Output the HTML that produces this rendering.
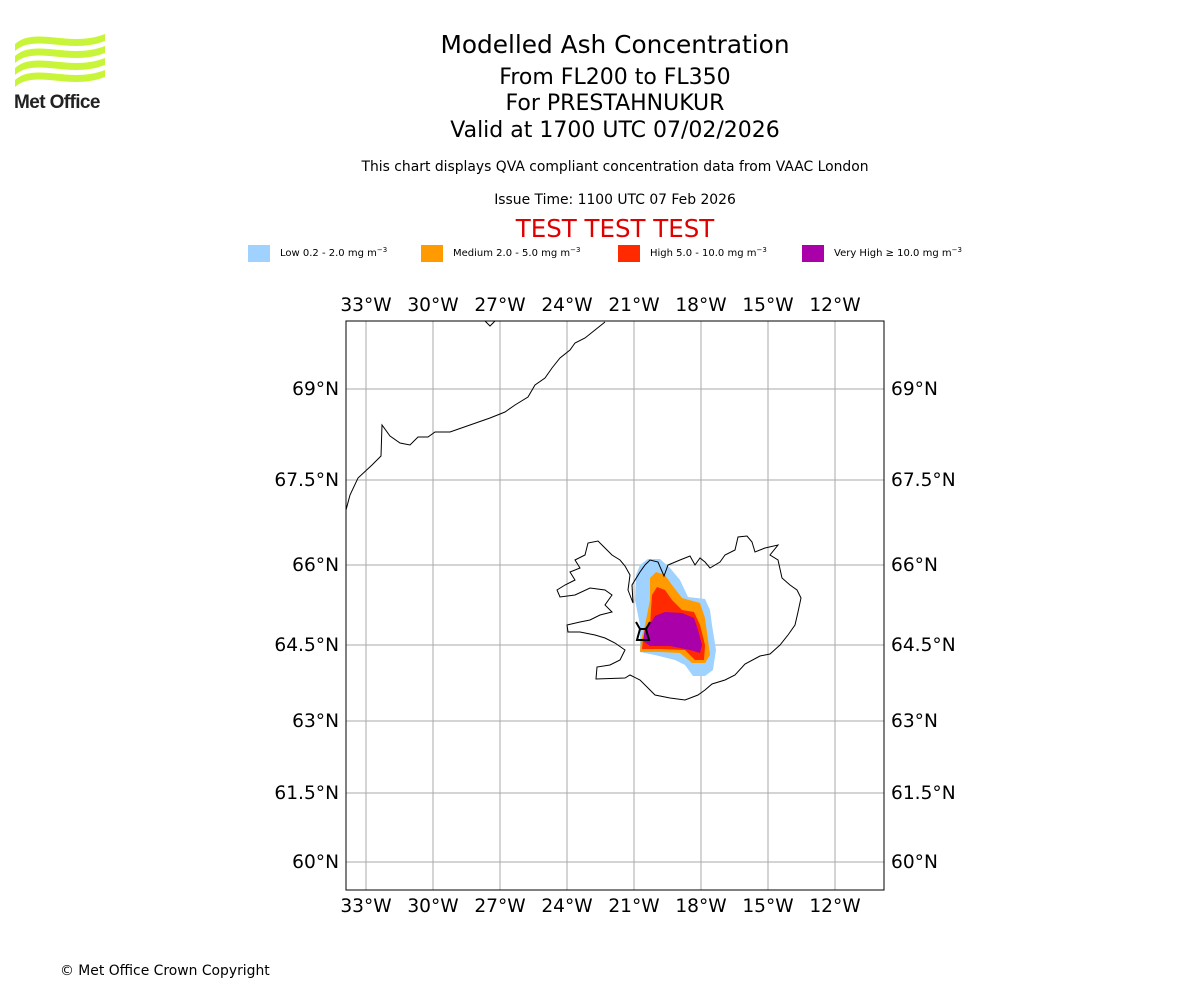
<!DOCTYPE html>
<html><head><meta charset="utf-8"><style>
body{margin:0;background:#fff;font-family:"DejaVu Sans","Liberation Sans",sans-serif}
</style></head><body>
<svg width="1200" height="1000" viewBox="0 0 1200 1000" xmlns="http://www.w3.org/2000/svg" font-family="DejaVu Sans, Liberation Sans, sans-serif">
<g fill="#c8f53a">
<path d="M15,44 C35,26 70,48 105,34 L105,41 C70,55 35,33 15,51Z"/>
<path d="M15,56 C35,38 70,60 105,46 L105,53 C70,67 35,45 15,63Z"/>
<path d="M15,68 C35,50 70,72 105,58 L105,65 C70,79 35,57 15,75Z"/>
<path d="M15,80 C35,62 70,84 105,70 L105,77 C70,91 35,69 15,87Z"/>
<text x="14" y="108" font-size="19" font-weight="bold" fill="#222" font-family="Liberation Sans, sans-serif" letter-spacing="-0.6">Met Office</text>
</g>
<g text-anchor="middle" fill="#000">
<text x="615" y="53" font-size="24.8">Modelled Ash Concentration</text>
<text x="615" y="84" font-size="22">From FL200 to FL350</text>
<text x="615" y="110" font-size="22">For PRESTAHNUKUR</text>
<text x="615" y="137" font-size="22">Valid at 1700 UTC 07/02/2026</text>
<text x="615" y="171" font-size="13.9">This chart displays QVA compliant concentration data from VAAC London</text>
<text x="615" y="204" font-size="13.9">Issue Time: 1100 UTC 07 Feb 2026</text>
<text x="615" y="237" font-size="24.5" fill="#e00000">TEST TEST TEST</text>
</g>
<g font-size="10">
<rect x="248" y="245" width="22" height="17" fill="#a0d2ff"/><text x="280" y="256">Low 0.2 - 2.0 mg m<tspan dy="-4" font-size="7">−3</tspan></text>
<rect x="421" y="245" width="22" height="17" fill="#ff9a00"/><text x="453" y="256">Medium 2.0 - 5.0 mg m<tspan dy="-4" font-size="7">−3</tspan></text>
<rect x="618" y="245" width="22" height="17" fill="#ff2a00"/><text x="650" y="256">High 5.0 - 10.0 mg m<tspan dy="-4" font-size="7">−3</tspan></text>
<rect x="802" y="245" width="22" height="17" fill="#aa00aa"/><text x="834" y="256">Very High  ≥  10.0 mg m<tspan dy="-4" font-size="7">−3</tspan></text>
</g>
<g id="map">
<defs><clipPath id="c"><rect x="346" y="321" width="538" height="569"/></clipPath></defs>
<g clip-path="url(#c)">
<g>
<polygon fill="#a0d2ff" points="640,565 648,559 660,559 670,568 680,580 688,597 705,599 710,610 712,625 716,650 713,670 705,676 693,676 685,665 675,660 655,655 640,652 640,625 635,600 636,575"/>
<polygon fill="#ff9a00" points="650,578 656,572 665,575 672,585 682,598 700,603 705,618 708,640 710,655 705,663 692,663 680,653 660,652 640,652 641,640 645,625 650,600"/>
<polygon fill="#ff2a00" points="652,595 657,587 665,590 672,600 682,610 694,612 700,625 705,645 704,660 695,660 685,650 660,649 642,649 643,640 650,625"/>
<polygon fill="#aa00aa" points="655,616 665,612 682,613 694,618 698,630 702,645 700,653 690,650 670,646 650,646 643,641 645,628 652,621"/>
</g>
<polyline fill="none" stroke="#000" stroke-width="1" points="346,510 350,495 358,478 372,465 381,456 382,425 390,436 400,443 410,445 418,437 428,437 435,432 450,432 470,425 490,418 505,412 515,405 528,397 535,385 545,378 552,368 560,358 570,350 575,343 585,338 595,330 605,322"/>
<polyline fill="none" stroke="#000" points="485,321 490,326 495,321"/>
<polygon fill="none" stroke="#000" stroke-width="1" points="557,590 565,585 575,580 570,572 580,568 575,560 585,555 588,543 598,541 605,548 612,555 620,560 625,566 630,575 628,590 633,603 632,585 640,572 645,565 650,560 658,562 664,576 668,565 680,560 690,556 695,565 700,558 705,562 710,568 720,562 725,555 735,550 738,537 747,536 752,542 755,552 765,548 778,545 770,555 778,560 782,578 790,585 797,590 801,598 798,612 795,625 788,635 780,645 770,654 760,656 745,664 735,675 725,680 712,684 705,690 698,695 685,700 670,698 655,695 648,688 640,680 630,675 625,678 596,679 597,667 610,665 620,660 625,650 615,643 605,638 595,635 580,632 568,632 567,625 580,622 590,620 600,615 612,612 605,605 612,595 605,590 590,588 575,595 560,597"/>
<g id="grid"></g>
</g>
<path d="M637,640 L649,640 L646,629 L640,629 Z M640,629 L636,622 M646,629 L650,622" fill="none" stroke="#000" stroke-width="2"/>
<rect x="346" y="321" width="538" height="569" fill="none" stroke="#000" stroke-width="1"/>
<g id="labels" font-size="18.6" fill="#000"></g>
</g>
<text x="60" y="975" font-size="13.9">© Met Office Crown Copyright</text>
</svg>
<script>
const lonTicks=[-33,-30,-27,-24,-21,-18,-15,-12];
const lonLabels=["33°W","30°W","27°W","24°W","21°W","18°W","15°W","12°W"];
const latTicks=[69,67.5,66,64.5,63,61.5,60];
const latLabels=["69°N","67.5°N","66°N","64.5°N","63°N","61.5°N","60°N"];
const latPix=[389,480,565,645,721,793,862];
const NS="http://www.w3.org/2000/svg";
function xOf(lon){return 366+(lon+33)*67/3;}
function yOf(lat){
  for(let i=0;i<latTicks.length-1;i++){const a=latTicks[i],b=latTicks[i+1];
    if(lat<=a&&lat>=b){return latPix[i]+(a-lat)/(a-b)*(latPix[i+1]-latPix[i]);}}
  return latPix[0];
}
const grid=document.getElementById('grid'),labels=document.getElementById('labels');
function mk(tag,attrs,parent){const e=document.createElementNS(NS,tag);for(const k in attrs)e.setAttribute(k,attrs[k]);parent.appendChild(e);return e;}
lonTicks.forEach((lon,i)=>{
  const x=xOf(lon);
  const l=mk('line',{x1:x,x2:x,y1:321,y2:890,stroke:'#aaa','stroke-width':1},grid);
  
  
  [311,912].forEach(y=>{const t=mk('text',{x:x,y:y,'text-anchor':'middle'},labels);t.textContent=lonLabels[i];
    
    });
});
latTicks.forEach((lat,i)=>{
  const y=yOf(lat);
  const l=mk('line',{x1:346,x2:884,y1:y,y2:y,stroke:'#aaa','stroke-width':1},grid);
  
  
  const a=mk('text',{x:339,y:y+6,'text-anchor':'end'},labels);a.textContent=latLabels[i];
  
  
  const b=mk('text',{x:891,y:y+6,'text-anchor':'start'},labels);b.textContent=latLabels[i];
  
  
});
grid.parentNode.insertBefore(grid,grid.parentNode.firstChild);
</script>
</body></html>
